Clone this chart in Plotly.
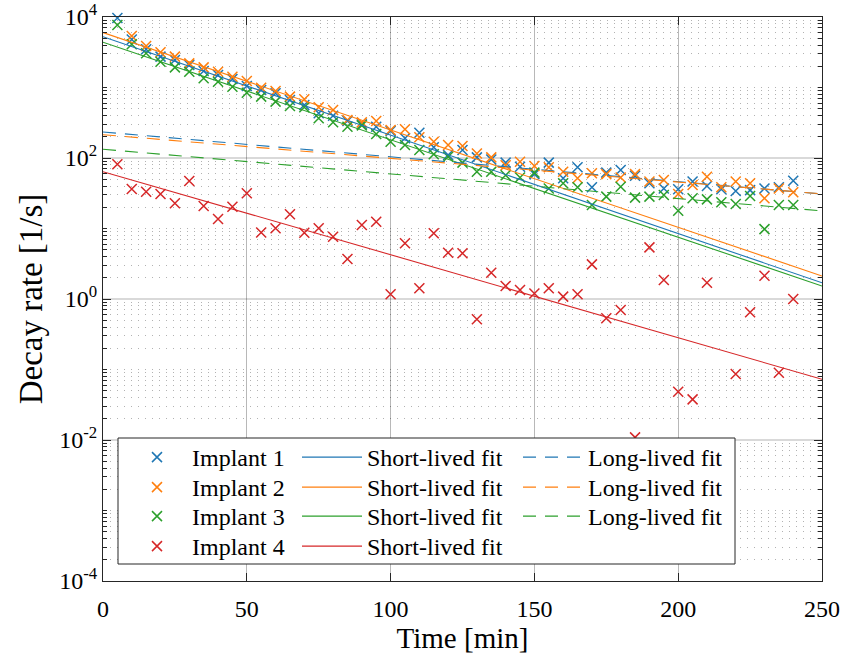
import plotly.graph_objects as go

# ---------------- data ----------------
time_min = [5, 10, 15, 20, 25, 30, 35, 40, 45, 50, 55, 60, 65, 70, 75, 80, 85, 90, 95, 100,
            105, 110, 115, 120, 125, 130, 135, 140, 145, 150, 155, 160, 165, 170, 175, 180,
            185, 190, 195, 200, 205, 210, 215, 220, 225, 230, 235, 240]

implant1 = [9700, 4800, 3480, 2740, 2450, 2090, 1710, 1500, 1320, 1050, 923, 828, 665, 563,
            430, 398, 335, 300, 278, 242, 191, 228, 142, 110, 130, 102, 95, 86, 75, 59, 86,
            51.5, 74, 38.4, 62, 67.6, 56, 43.8, 37, 36, 46.5, 40, 36, 34, 35, 37, 38.4, 47.6]

implant2 = [None, 5370, 3880, 3160, 2740, 2200, 1930, 1675, 1420, 1235, 994, 891, 742, 680,
            524, 479, 346, 320, 335, 250, 255, 197, 170, 153, 148, 116, 102, 79, 88.5, 77, 74,
            64, 51.5, 60.7, 59, 53, 59, 46.5, 48.8, 30.9, 41.4, 54.3, 38.4, 46.5, 43.8, 26.8,
            37, 32.6]

implant3 = [7700, 4100, 3060, 2320, 1930, 1670, 1350, 1210, 1025, 843, 742, 630, 547, 524,
            366, 321, 278, 290, 219, 170, 153, 130, 113, 104, 86, 64, 64, 57, 53, 62, 37,
            43.8, 38.4, 21.5, 28.3, 39, 27.4, 28.3, 29.9, 17.9, 26.8, 25.9, 23.5, 22.3, 28.9,
            9.8, 21.5, 21.5]

implant4 = [81.5, 36.3, 33.3, 30.8, 22.8, 47.2, 20.8, 13.6, 20.4, 31.6, 8.8, 10.1, 15.9, 8.7,
            10.1, 7.65, 3.69, 11.2, 12.5, 1.17, 6.17, 1.42, 8.55, 4.54, 4.45, 0.515, 2.36,
            1.53, 1.34, 1.2, 1.42, 1.08, 1.17, 3.1, 0.532, 0.70, 0.0109, 5.4, 1.86, 0.0484,
            0.0377, 1.70, None, 0.0863, 0.647, 2.14, 0.090, 1.0]

# fitted exponentials (straight lines on a log axis), evaluated at the ends of the time range
fit_time = [0, 250]
short_fit1 = [5250, 1.70]
short_fit2 = [6000, 2.12]
short_fit3 = [4380, 1.53]
short_fit4 = [64, 0.0726]
long_fit1 = [234, 30.8]
long_fit2 = [214, 31.0]
long_fit3 = [133, 17.8]

implant_names = ["Implant 1", "Implant 2", "Implant 3", "Implant 4"]
y_tick_vals = [1e-4, 1e-2, 1e0, 1e2, 1e4]
y_tick_text = ["10<sup>-4</sup>", "10<sup>-2</sup>", "10<sup>0</sup>", "10<sup>2</sup>", "10<sup>4</sup>"]
x_tick_vals = [0, 50, 100, 150, 200, 250]

# ---------------- style ----------------
colors = ["#1f77b4", "#ff7f0e", "#2ca02c", "#d62728"]
FONT = "Liberation Serif"
data_sets = [implant1, implant2, implant3, implant4]
short_fits = [short_fit1, short_fit2, short_fit3, short_fit4]
long_fits = [long_fit1, long_fit2, long_fit3]

# plot area in pixels
L, R, T, B = 103, 822, 17, 581
W, H = 841, 654
pw, ph = R - L, B - T

def px_x(p):
    return (p - L) / pw

def px_y(p):
    return (B - p) / ph

# legend grid (pixel layout of the boxed 3-column legend)
row_centers = [458, 488, 517, 547]
col_lefts = [122, 297, 518]
ROW_OFFSET = 23

def leg_key(n):
    return "legend" if n == 1 else "legend%d" % n

legend_layouts = {}
legend_counter = [0]

def new_legend(col, row):
    legend_counter[0] += 1
    key = leg_key(legend_counter[0])
    legend_layouts[key] = dict(
        x=px_x(col_lefts[col]), y=px_y(row_centers[row] - ROW_OFFSET),
        bgcolor="rgba(0,0,0,0)", borderwidth=0, xanchor="left", yanchor="top",
        font=dict(family=FONT, size=24, color="black"), itemwidth=60,
        tracegroupgap=0, orientation="v")
    return key

fig = go.Figure()
for i in range(4):
    fig.add_trace(go.Scatter(
        x=time_min, y=data_sets[i], mode="markers", name=implant_names[i],
        marker=dict(symbol="x-thin", size=10, color=colors[i],
                    line=dict(width=1.5, color=colors[i])),
        cliponaxis=False, legend=new_legend(0, i)))
for i in range(4):
    fig.add_trace(go.Scatter(
        x=fit_time, y=short_fits[i], mode="lines", name="Short-lived fit",
        line=dict(color=colors[i], width=1.1), legend=new_legend(1, i)))
for i in range(3):
    fig.add_trace(go.Scatter(
        x=fit_time, y=long_fits[i], mode="lines", name="Long-lived fit",
        line=dict(color=colors[i], width=1.1, dash="13px,9px"), legend=new_legend(2, i)))

minor_vals = []
for n in range(-4, 4):
    for k in range(1, 10):
        if k == 1 and n % 2 == 0:
            continue
        minor_vals.append(k * 10 ** n)

axis_common = dict(
    showline=True, linecolor="#262626", linewidth=1, mirror="allticks",
    ticks="inside", tickcolor="#262626", ticklen=8, tickwidth=1,
    tickfont=dict(family=FONT, size=24, color="black"),
    zeroline=False, showgrid=True, automargin=False,
)

fig.update_layout(
    width=W, height=H,
    margin=dict(l=L, r=W - R, t=T, b=H - B),
    paper_bgcolor="white", plot_bgcolor="white",
    font=dict(family=FONT, color="black"),
    showlegend=True,
    xaxis=dict(range=[0, 250], tickvals=x_tick_vals,
               gridcolor="rgba(0,0,0,0.28)", gridwidth=1, ticklabelstandoff=6,
               title=dict(text="Time [min]", font=dict(family=FONT, size=29, color="black"),
                          standoff=2),
               **axis_common),
    yaxis=dict(type="log", range=[-4, 4], tickvals=y_tick_vals, ticktext=y_tick_text,
               gridcolor="rgba(0,0,0,0.15)", gridwidth=1.5,
               title=dict(text="Decay rate [1/s]", font=dict(family=FONT, size=33, color="black"),
                          standoff=6),
               minor=dict(tickmode="array", tickvals=minor_vals, ticks="inside", ticklen=4,
                          tickcolor="#262626", showgrid=True, gridcolor="rgba(0,0,0,0.3)",
                          griddash="1px,6px", gridwidth=1),
               **axis_common),
    shapes=[dict(type="rect", xref="paper", yref="paper",
                 x0=px_x(118), x1=px_x(735), y0=px_y(564), y1=px_y(438),
                 fillcolor="white", line=dict(color="#262626", width=1), layer="above")],
    **legend_layouts,
)

fig.write_html("out.html",
               config={"displayModeBar": False},
               post_script="document.body.style.margin='0px';"
                           "document.body.style.overflow='hidden';")
